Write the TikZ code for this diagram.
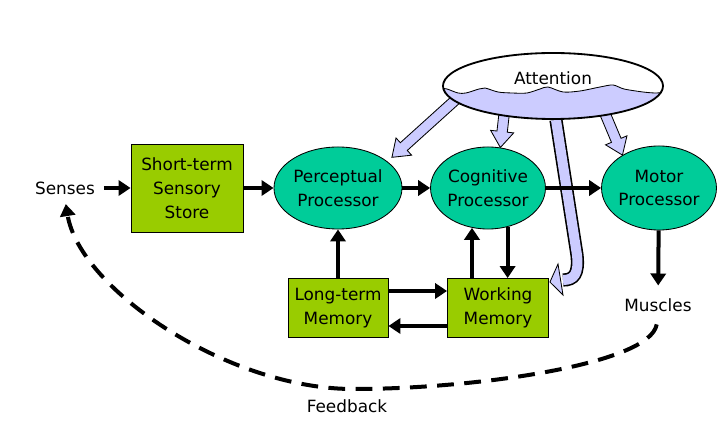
\documentclass[tikz,border=0pt]{standalone}
\usepackage{fontspec}
\setmainfont{DejaVu Sans}
\usetikzlibrary{shapes.geometric,arrows.meta,calc,backgrounds}
\definecolor{vertboite}{HTML}{99CC00}
\definecolor{vertrond}{HTML}{00CC99}
\definecolor{lavande}{HTML}{CCCCFF}

% grosse fleche mauve de l'attention
\newcommand{\flechebleue}[2]{%
  \path (#1) coordinate (fbA) (#2) coordinate (fbB);
  \path ($(fbB)!0.4cm!(fbA)$) coordinate (fbH);
  \filldraw[fill=lavande, draw=black, line width=0.6pt]
    ($(fbA)!0.13cm!90:(fbB)$) -- ($(fbH)!0.13cm!-90:(fbA)$) -- ($(fbH)!0.29cm!-90:(fbA)$)
    -- (fbB) -- ($(fbH)!0.29cm!90:(fbA)$) -- ($(fbH)!0.13cm!90:(fbA)$)
    -- ($(fbA)!0.13cm!-90:(fbB)$) -- cycle;}

\begin{document}
\begin{tikzpicture}[x=0.025cm,y=-0.025cm,font=\fontsize{12}{17}\selectfont]
\tikzset{boite/.style={draw, fill=vertboite, line width=0.6pt, align=center},
  rond/.style={draw, ellipse, fill=vertrond, line width=0.6pt, align=center, inner sep=0pt},
  fleche/.style={line width=0.1cm, -{Triangle[length=0.3cm,width=0.38cm]}},
  retour/.style={fleche, dash pattern=on 0.42cm off 0.26cm}}
\useasboundingbox (0,0) rectangle (718,425);
\node (Sens) at (65,188) {Senses};
\node[boite, minimum width=2.8cm, minimum height=2.2cm] (SSS) at (187,188) {Short-term\\Sensory\\Store};
\node[rond, minimum width=3.2cm, minimum height=2.05cm] (PP) at (338,188) {Perceptual\\Processor};
\node[rond, minimum width=2.75cm, minimum height=2.05cm] (CP) at (488,188) {Cognitive\\Processor};
\node[rond, minimum width=2.85cm, minimum height=2.1cm] (MP) at (659,188) {Motor\\Processor};
\node[boite, minimum width=2.5cm, minimum height=1.475cm] (LTM) at (338,308) {Long-term\\Memory};
\node[boite, minimum width=2.525cm, minimum height=1.475cm] (WM) at (498,308) {Working\\Memory};
\node (Mus) at (658,305) {Muscles};
\node (Fb) at (347,406) {Feedback};
\node[draw, ellipse, line width=1.3pt, minimum width=5.5cm, minimum height=1.65cm] (Att) at (553,86) {\raisebox{0.4cm}{Attention}};

\draw[fleche, shorten <=0.1cm] (Sens) -- (SSS);
\draw[fleche] (SSS) -- (PP);
\draw[fleche] (PP) -- (CP);
\draw[fleche] (CP) -- (MP);
\draw[fleche] (LTM) -- (PP);
\draw[fleche] ([yshift=0.425cm]LTM.east) -- ([yshift=0.425cm]WM.west);
\draw[fleche] ([yshift=-0.45cm]WM.west) -- ([yshift=-0.45cm]LTM.east);
\draw[fleche] ([xshift=-0.65cm]WM.north) -- ([xshift=-0.65cm]WM.north |- CP.248);
\draw[fleche] ([xshift=0.24cm]WM.north |- CP.298) -- ([xshift=0.24cm]WM.north);
\draw[fleche, shorten >=0.2cm] (MP) -- (Mus);
\draw[retour, shorten <=0.2cm, shorten >=0.12cm] (Mus.south) .. controls (650,365) and (470,389) .. (355,389)
  .. controls (230,390) and (80,290) .. (Sens.south);

\begin{pgfonlayer}{background}
\flechebleue{$(Att.center)+(-91,8)$}{$(PP.30)+(6,-3)$}
\flechebleue{$(Att.center)+(-48,20)$}{CP.73}
\flechebleue{$(Att.center)+(48,18)$}{MP.138}
% la longue fleche vers la memoire de travail
\draw[line width=0.33cm] (Att.275) -- (577,255) .. controls (579,274) and (574,280) .. (563,280);
\filldraw[fill=lavande, line width=0.6pt] (558,264) -- ($(WM.north east)+(1,4)$) -- (563,295) -- cycle;
\draw[lavande, line width=0.25cm] (Att.275) -- (577,255) .. controls (579,274) and (574,280) .. (563,280);
\begin{scope}
\clip (Att.center) ellipse [x radius=2.75cm, y radius=0.825cm];
\fill[white] (Att.center) ellipse [x radius=2.75cm, y radius=0.825cm];
\fill[lavande] plot[smooth] coordinates {(440,88) (447,89) (458,93) (466,93) (479,89) (485,88) (498,92) (512,93) (527,93) (540,89) (548,87) (563,92) (580,91) (600,87) (613,85) (624,89) (643,92) (656,93) (668,92)}
  -- (670,125) -- (435,125) -- cycle;
\draw[line width=0.6pt] plot[smooth] coordinates {(440,88) (447,89) (458,93) (466,93) (479,89) (485,88) (498,92) (512,93) (527,93) (540,89) (548,87) (563,92) (580,91) (600,87) (613,85) (624,89) (643,92) (656,93) (668,92)};
\end{scope}
\end{pgfonlayer}
\end{tikzpicture}
\end{document}
